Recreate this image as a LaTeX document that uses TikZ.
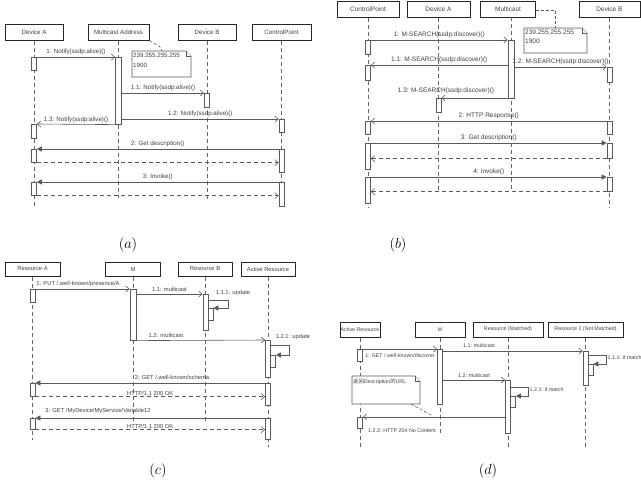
\documentclass[tikz,border=0pt]{standalone}
\usepackage{fontspec}
\setmainfont{Liberation Sans}
\newfontfamily\cjk{Noto Sans CJK SC}
\usetikzlibrary{arrows.meta,calc}
\newcommand\fta{\fontsize{6.2}{9.5}\selectfont}
\newcommand\ftb{\fontsize{6.5}{9}\selectfont}
\newcommand\ftc{\fontsize{5.8}{8}\selectfont}
\newcommand\ftd{\fontsize{5.3}{7}\selectfont}
\newcommand\capfnt{\fontsize{14}{16}\selectfont}
\begin{document}
\begin{tikzpicture}[x=1pt,y=-1pt,
  hdr/.style={draw=black!85, line width=1pt, fill=white, inner sep=0pt, text=black!75},
  life/.style={draw=black!60, line width=0.5pt, dash pattern=on 4pt off 3pt},
  act/.style={draw=black!65, fill=white, line width=0.6pt, minimum width=5pt, inner sep=0pt, anchor=north},
  msg/.style={draw=black!65, line width=0.6pt, -{Straight Barb[length=3.5pt,width=6pt]}},
  call/.style={draw=black!65, line width=0.6pt, -{Triangle[length=5pt,width=5pt]}},
  ret/.style={msg, dash pattern=on 4pt off 3pt},
  lbl/.style={text=black!75, inner sep=0pt},
  notebox/.style={draw=black!65, line width=0.6pt, fill=white},
  notelink/.style={draw=black!65, line width=0.6pt, dash pattern=on 3pt off 2pt},
  captxt/.style={font=\capfnt, inner sep=0pt}
]
\fill[white] (0,0) rectangle (641,499);
\useasboundingbox (0,0) rectangle (641,499);

% ---------------- (a) ----------------
\begin{scope}[hdr/.append style={font=\fta, minimum height=16pt}, lbl/.append style={font=\fta}]
\node[hdr, minimum width=58pt] (hA1) at (34,32) {Device A};
\node[hdr, minimum width=61pt] (hM1) at (118.5,32) {Multicast Address};
\node[hdr, minimum width=58pt] (hB1) at (207,32) {Device B};
\node[hdr, minimum width=59pt] (hC1) at (281.5,32) {ControlPoint};
\draw[life] (hA1.south) -- (hA1.south |- 0,208);
\draw[life] (hM1.south) -- (hM1.south |- 0,198);
\draw[life] (hB1.south) -- (hB1.south |- 0,199);
\draw[life] (hC1.south) -- (hC1.south |- 0,208);
\node[act, minimum height=13pt] (aA1) at (34,57) {};
\node[act, minimum width=6pt, minimum height=67pt] (aM1) at (118.5,57) {};
\node[act, minimum height=14pt] (aB1) at (207,93) {};
\node[act, minimum height=13pt] (aC1) at (281.5,119) {};
\node[act, minimum height=14pt] (aA2) at (34,124) {};
\node[act, minimum height=13pt] (aA3) at (34,149) {};
\node[act, minimum height=23pt] (aC2) at (281.5,149) {};
\node[act, minimum height=13pt] (aA4) at (34,182) {};
\node[act, minimum height=24pt] (aC3) at (281.5,182) {};
\draw[msg] (aA1.north east) -- node[lbl, above=2pt] {1: Notify(ssdp:alive)()} (aM1.north west);
\draw[msg] (aM1.east |- aB1.north) -- node[lbl, above=2pt] {1.1: Notify(ssdp:alive)()} (aB1.north west);
\draw[msg] (aM1.east |- aC1.north) -- node[lbl, above=2pt] {1.2: Notify(ssdp:alive)()} (aC1.north west);
\draw[msg] (aM1.south west) -- node[lbl, above=0.8pt] {1.3: Notify(ssdp:alive)()} (aA2.north east);
\draw[call] (aC2.north west) -- node[lbl, above=2pt] {2: Get description()} (aA3.north east);
\draw[ret] (aA3.south east) -- (aC2.west |- aA3.south);
\draw[call] (aC3.north west) -- node[lbl, above=2pt] {3: Invoke()} (aA4.north east);
\draw[ret] (aA4.south east) -- (aC3.west |- aA4.south);
\draw[notebox] (132,51) -- (186,51) -- (191,56) -- (191,77) -- (132,77) -- cycle;
\draw[notebox] (186,51) -- (186,56) -- (191,56);
\node[lbl, anchor=north west, align=left] (na) at (133,53) {239.255.255.255\\1900};
\coordinate (natop) at (162,51);
\draw[notelink] (hM1.south east) -- (160,47) -- (natop);
\node[captxt] (capa) at (128,245) {$(a)$};
\end{scope}

% ---------------- (b) ----------------
\begin{scope}[hdr/.append style={font=\ftb, minimum height=16pt}, lbl/.append style={font=\ftb}]
\node[hdr, minimum width=62pt] (hC2) at (368,9) {ControlPoint};
\node[hdr, minimum width=63pt] (hA2) at (438.5,9) {Device A};
\node[hdr, minimum width=55pt] (hM2) at (508,9) {Multicast};
\node[hdr, minimum width=61pt] (hB2) at (609.5,9) {Device B};
\coordinate (mtop) at (511,17);
\draw[life] (hC2.south) -- (hC2.south |- 0,207);
\draw[life] (hA2.south) -- (hA2.south |- 0,190);
\draw[life] (mtop) -- (511,190);
\draw[life] (hB2.south) -- (hB2.south |- 0,207);
\node[act, minimum height=14pt] (bC1) at (368,40) {};
\node[act, minimum width=6pt, minimum height=58pt] (bM1) at (511,40) {};
\node[act, minimum height=15pt] (bC2) at (368,65) {};
\node[act, minimum height=15pt] (bB1) at (609.5,67) {};
\node[act, minimum height=14pt] (bA1) at (438.5,98) {};
\node[act, minimum height=13pt] (bC3) at (368,121) {};
\node[act, minimum height=13pt] (bB2) at (609.5,121) {};
\node[act, minimum height=26pt] (bC4) at (368,143) {};
\node[act, minimum height=15pt] (bB3) at (609.5,143) {};
\node[act, minimum height=26pt] (bC5) at (368,177) {};
\node[act, minimum height=14pt] (bB4) at (609.5,177) {};
\draw[msg] (bC1.north east) -- node[lbl, above=2pt] {1: M-SEARCH(ssdp:discover)()} (bM1.north west);
\draw[msg] (bM1.west |- bC2.north) -- node[lbl, above=2pt] {1.1: M-SEARCH(ssdp:discover)()} (bC2.north east);
\draw[msg] (bM1.east |- bB1.north) -- node[lbl, above=2pt] {1.2: M-SEARCH(ssdp:discover)()} (bB1.north west);
\draw[msg] (bM1.west |- bA1.north) -- (bA1.north east);
\node[lbl] (l13b) at (446,91) {1.3: M-SEARCH(ssdp:discover)()};
\draw[msg] (bB2.north west) -- node[lbl, above=2pt] {2: HTTP Response()} (bC3.north east);
\draw[call] (bC4.north east) -- node[lbl, above=2pt] {3: Get description()} (bB3.north west);
\draw[ret] (bB3.south west) -- (bC4.east |- bB3.south);
\draw[call] (bC5.north east) -- node[lbl, above=2pt] {4: invoke()} (bB4.north west);
\draw[ret] (bB4.south west) -- (bC5.east |- bB4.south);
\draw[notebox] (524,28) -- (582,28) -- (587,33) -- (587,53) -- (524,53) -- cycle;
\draw[notebox] (582,28) -- (582,33) -- (587,33);
\node[lbl, anchor=north west, align=left] (nb) at (525,30) {239.255.255.255\\1900};
\coordinate (nbtop) at (555,28);
\draw[notelink] (hM2.east |- 0,10) -- (555,10) -- (nbtop);
\node[captxt] (capb) at (398,245) {$(b)$};
\end{scope}

% ---------------- (c) ----------------
\begin{scope}[hdr/.append style={font=\ftc, minimum height=14pt}, lbl/.append style={font=\ftc}]
\node[hdr, minimum width=55pt] (hRA) at (32.5,269) {Resource A};
\node[hdr, minimum width=55pt] (hM3) at (133,269) {M};
\node[hdr, minimum width=54pt] (hRB) at (205,269) {Resource B};
\node[hdr, minimum width=54pt] (hAR) at (268,269) {Active Resource};
\draw[life] (hRA.south) -- (hRA.south |- 0,440);
\draw[life] (hM3.south) -- (hM3.south |- 0,423);
\draw[life] (hRB.south) -- (hRB.south |- 0,423);
\draw[life] (hAR.south) -- (hAR.south |- 0,447);
\node[act, minimum height=13pt] (cRA1) at (32.5,289) {};
\node[act, minimum width=6pt, minimum height=51pt] (cM1) at (133,289) {};
\node[act, minimum height=36pt] (cRB1) at (205.5,294) {};
\node[act, minimum height=12pt] (cRB2) at (210.5,308) {};
\node[act, minimum height=37pt] (cAR1) at (268,340) {};
\node[act, minimum height=12pt] (cAR2) at (273,355) {};
\node[act, minimum height=13pt] (cRA2) at (32.5,383) {};
\node[act, minimum height=22pt] (cAR3) at (268,383) {};
\node[act, minimum height=11pt] (cRA3) at (32.5,418) {};
\node[act, minimum height=21pt] (cAR4) at (268,418) {};
\draw[msg] (cRA1.north east) -- (cM1.north west);
\node[lbl] (l1c) at (78,284) {1: PUT /.well-known/presence/A};
\draw[msg] (cM1.east |- cRB1.north) -- node[lbl, above=2pt] {1.1: multicast} (cRB1.north west);
\draw[call] (cRB1.east |- 0,300) -- (228,300) -- (228,308) -- (cRB2.north east);
\node[lbl] (l111c) at (233,293) {1.1.1: update};
\draw[msg] (cM1.south east) -- (cAR1.north west);
\node[lbl] (l12c) at (166,335) {1.2: multicast};
\draw[call] (cAR1.east |- 0,345) -- (289,345) -- (289,355) -- (cAR2.north east);
\node[lbl] (l121c) at (293,337) {1.2.1: update};
\draw[call] (cAR3.north west) -- (cRA2.north east);
\node[lbl] (l2c) at (172,377) {2: GET /.well-known/schema};
\draw[ret] (cRA2.south east) -- node[lbl, above=0.8pt] {HTTP/1.1 200 OK} (cAR3.west |- cRA2.south);
\draw[call] (cAR4.north west) -- (cRA3.north east);
\node[lbl] (l3c) at (98,411) {3: GET /MyDevice/MyService/Variable12};
\draw[ret] (cRA3.south east) -- node[lbl, above=0.8pt] {HTTP/1.1 200 OK} (cAR4.west |- cRA3.south);
\node[captxt] (capc) at (158,471) {$(c)$};
\end{scope}

% ---------------- (d) ----------------
\begin{scope}[hdr/.append style={font=\ftd, minimum height=15pt}, lbl/.append style={font=\ftd}]
\node[hdr, minimum width=40pt] (hAR4) at (360,329.5) {Active Resource};
\node[hdr, minimum width=50pt] (hM4) at (440,329.5) {M};
\node[hdr, minimum width=70pt] (hRM) at (508,329.5) {Resource (Matched)};
\node[hdr, minimum width=75pt] (hR2) at (585.5,329.5) {Resource 2 (Not Matched)};
\draw[life] (hAR4.south) -- (hAR4.south |- 0,448);
\draw[life] (hM4.south) -- (hM4.south |- 0,433);
\draw[life] (hRM.south) -- (hRM.south |- 0,447);
\draw[life] (hR2.south) -- (hR2.south |- 0,447);
\node[act, minimum height=12pt] (dAR1) at (360,349) {};
\node[act, minimum height=55pt] (dM1) at (440,349) {};
\node[act, minimum height=34pt] (dR21) at (585.5,351) {};
\node[act, minimum height=11pt] (dR22) at (590.5,364) {};
\node[act, minimum height=53pt] (dRM1) at (508,380) {};
\node[act, minimum height=11pt] (dRM2) at (513,396) {};
\node[act, minimum height=11pt] (dAR2) at (360,417) {};
\draw[msg] (dAR1.north east) -- node[lbl, below=4pt] {1: GET /.well-known/discover} (dM1.north west);
\draw[msg] (dM1.east |- dR21.north) -- (dR21.north west);
\node[lbl] (l11d) at (479,346) {1.1: multicast};
\draw[call] (dR21.east |- 0,355) -- (606,355) -- (606,364) -- (dR22.north east);
\node[lbl, anchor=west] (l111d) at (607.5,358) {1.1.1: if match};
\draw[msg] (dM1.east |- dRM1.north) -- node[lbl, above=2pt] {1.2: multicast} (dRM1.north west);
\draw[call] (dRM1.east |- 0,387) -- (528,387) -- (528,396) -- (dRM2.north east);
\node[lbl, anchor=west] (l121d) at (529.5,390) {1.2.1: if match};
\draw[msg] (dRM1.west |- dAR2.north) -- (dAR2.north east);
\node[lbl] (l122d) at (402,431) {1.2.2: HTTP 204 No Content};
\draw[notebox] (352,376) -- (415,376) -- (420,381) -- (420,404) -- (352,404) -- cycle;
\draw[notebox] (415,376) -- (415,381) -- (420,381);
\node[lbl, anchor=north west] (nd) at (353,378.5) {{\cjk 返回}Description{\cjk 的}URL};
\coordinate (ndbot) at (411,404);
\coordinate (ndend) at (433,416);
\draw[notelink] (ndbot) -- (ndend);
\node[captxt] (capd) at (488,471) {$(d)$};
\end{scope}
\end{tikzpicture}
\end{document}
